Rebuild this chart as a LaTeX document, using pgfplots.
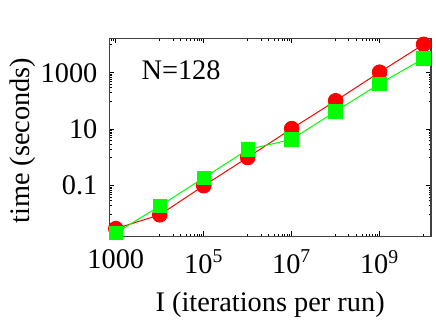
\documentclass[border=0pt]{standalone}
\usepackage{fontspec}
\setmainfont{Liberation Serif}
\usepackage{pgfplots}
\pgfplotsset{compat=1.18}
\definecolor{ptred}{RGB}{255,0,0}
\definecolor{ptgreen}{RGB}{0,255,0}
\begin{document}
\begin{tikzpicture}
\fontsize{14.4}{17}\selectfont
\begin{axis}[
    scale only axis,
    width=163.5pt, height=100.5pt,
    xmode=log, ymode=log,
    xmin=708, xmax=1.48e10,
    ymin=1.62e-3, ymax=1.66e4,
    xtick={1e3,1e5,1e7,1e9},
    xticklabels={1000,10\textsuperscript{5},10\textsuperscript{7},10\textsuperscript{9}},
    ytick={0.1,10,1000},
    yticklabels={0.1,10,1000},
    minor xtick={800,900,1e4,2e4,3e4,4e4,5e4,6e4,7e4,8e4,9e4,
                 1e6,2e6,3e6,4e6,5e6,6e6,7e6,8e6,9e6,
                 1e8,2e8,3e8,4e8,5e8,6e8,7e8,8e8,9e8,1e10},
    minor ytick={0.01,0.02,0.03,0.04,0.05,0.06,0.07,0.08,0.09,
                 1,2,3,4,5,6,7,8,9,
                 100,200,300,400,500,600,700,800,900,1e4},
    major tick length=2.5pt, minor tick length=1.25pt,
    tick style={black, line width=0.4pt},
    axis line style={black!75, line width=0.6pt},
    /pgf/number format/assume math mode=true,
    tick label style={font=\fontsize{14.4}{17}\selectfont},
    label style={font=\fontsize{14.4}{17}\selectfont},
    xlabel={I (iterations per run)},
    ylabel={time (seconds)},
    xticklabel style={yshift=-2pt},
    yticklabel style={xshift=-1pt},
    xlabel style={at={(axis description cs:0.5,-0.345)}, anchor=center},
    ylabel style={at={(axis description cs:-0.27,0.483)}, anchor=center},
    clip=false,
]
\addplot[ptred, line width=0.5pt, mark=*, mark size=3.7pt,
    mark options={fill=ptred, draw=ptred}]
    coordinates {
        (1e3,0.003)(1e4,0.0093)(1e5,0.1)(1e6,1.0)
        (1e7,10.5)(1e8,102)(1e9,1050)(1e10,10200)
    };
\addplot[ptgreen, line width=0.5pt, mark=square*, mark size=3.4pt,
    mark options={fill=ptgreen, draw=ptgreen}]
    coordinates {
        (1e3,0.0021)(1e4,0.019)(1e5,0.19)(1e6,1.9)
        (1e7,4.4)(1e8,43)(1e9,410)(1e10,3200)
    };
\node[anchor=west, font=\fontsize{14.4}{17}\selectfont]
    at (rel axis cs:0.07,0.84) {N=128};
\path (rel axis cs:-0.318,-0.408) rectangle (rel axis cs:1.0153,1.194);
\end{axis}
\end{tikzpicture}
\end{document}
